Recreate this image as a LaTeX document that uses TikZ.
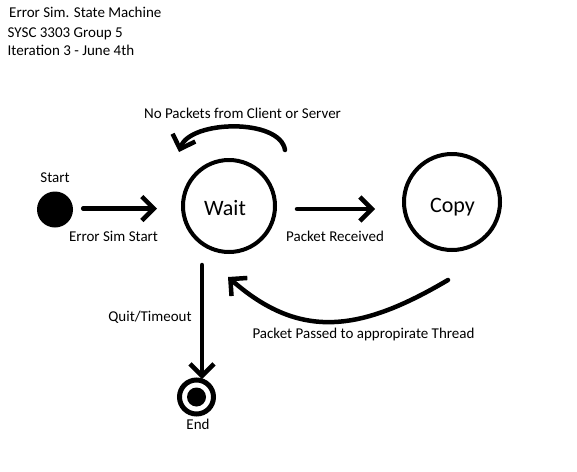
\documentclass[tikz,border=0pt]{standalone}
\usepackage{fontspec}
\setmainfont{Carlito}
\usetikzlibrary{arrows.meta}
\begin{document}
\begin{tikzpicture}[x=1pt,y=-1pt,
  txt/.style={inner sep=0pt,anchor=base,font=\fontsize{15pt}{18pt}\selectfont},
  big/.style={inner sep=0pt,anchor=base,font=\fontsize{22pt}{25pt}\selectfont},
  arr/.style={line width=4.5pt,line cap=round,
    -{Straight Barb[length=12pt,width=24pt,line width=4.5pt]}},
  state/.style={circle,draw,line width=4pt,inner sep=0pt}]
\useasboundingbox (0,0) rectangle (577,471);
% title
\node[txt,anchor=base west] (t1) at (9,17.5) {Error Sim. State Machine};
\node[txt,anchor=base west] (t2) at (7.5,37) {SYSC 3303 Group 5};
\node[txt,anchor=base west] (t3) at (7.5,55) {Iteration 3 - June 4th};
% states
\node[circle,fill=black,inner sep=0pt,minimum size=36pt] (start) at (55,209.5) {};
\node[txt] (startlbl) at (55,182.5) {Start};
\node[state,minimum size=92pt] (wait) at (229,206) {};
\node[big] (waittxt) at (225,215) {Wait};
\node[state,minimum size=96pt] (copy) at (452,202) {};
\node[big] (copytxt) at (452.5,212) {Copy};
\node[circle,draw,line width=5pt,inner sep=0pt,minimum size=34pt] (end) at (196.5,397) {};
\node[circle,fill=black,inner sep=0pt,minimum size=19pt] (endin) at (end) {};
\node[txt] (endlbl) at (198,429) {End};
% transitions
\draw[arr,shorten <=10pt,shorten >=24pt] ([yshift=1pt]start.east) -- ([yshift=1pt]start.east -| wait.west);
\node[txt] (l1) at (113.5,241.5) {Error Sim Start};
\draw[arr,shorten <=20pt,shorten >=27pt] ([yshift=-3pt]wait.east) -- ([yshift=-3pt]wait.east -| copy.west);
\node[txt] (l2) at (335,241.5) {Packet Received};
\draw[arr] ([shift={(56,-56)}]wait.center) .. controls ([shift={(51,-88)}]wait.center) and ([shift={(-39,-86)}]wait.center) .. ([shift={(-50,-54)}]wait.center);
\node[txt] (l3) at (242.5,118) {No Packets from Client or Server};
\draw[arr,shorten <=11pt] ([xshift=-27pt]wait.south) -- ([xshift=5.5pt,yshift=-1.5pt]end.north);
\node[txt] (l4) at (150,321.5) {Quit/Timeout};
\draw[arr] ([shift={(-4,28)}]copy.south) .. controls ([shift={(-92,80)}]copy.south) and ([shift={(-152,88)}]copy.south) .. ([shift={(-1,71)}]wait.center);
\node[txt] (l5) at (363.5,338.5) {Packet Passed to appropirate Thread};
\end{tikzpicture}
\end{document}
